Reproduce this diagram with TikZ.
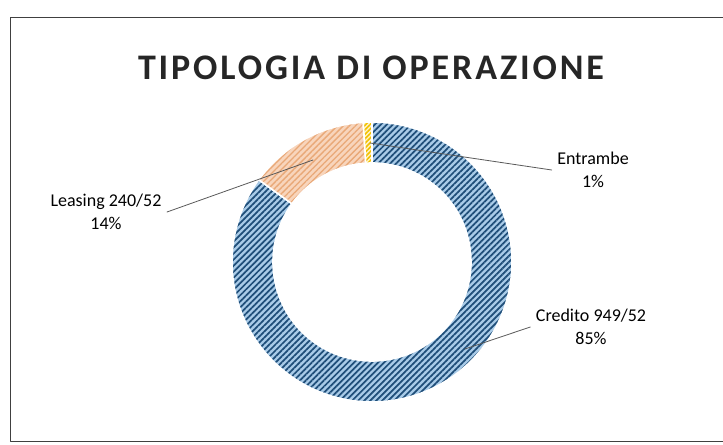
\documentclass[tikz,border=0pt]{standalone}
\usepackage{fontspec}
\setmainfont{Carlito}
\usetikzlibrary{patterns.meta}
\definecolor{credbg}{HTML}{A9CBE8}
\definecolor{credfg}{HTML}{1F4E79}
\definecolor{leasbg}{HTML}{F8D5BC}
\definecolor{leasfg}{HTML}{E9A877}
\definecolor{entbg}{HTML}{FFF2CC}
\definecolor{entfg}{HTML}{F2C200}
\definecolor{leadgrey}{HTML}{595959}
\definecolor{framegrey}{HTML}{404040}
\begin{document}
\begin{tikzpicture}[x=0.75pt,y=0.75pt, line join=round, line cap=round,
    slice/.style={draw=white, line width=1.2pt},
    credito/.style={preaction={fill=credbg}, pattern={Lines[angle=45,distance=3.2pt,line width=1.3pt]}, pattern color=credfg},
    leasing/.style={preaction={fill=leasbg}, pattern={Lines[angle=45,distance=3.2pt,line width=1pt]}, pattern color=leasfg},
    entrambe/.style={preaction={fill=entbg}, pattern={Lines[angle=45,distance=2.4pt,line width=1.2pt]}, pattern color=entfg},
    lbl/.style={align=center, font=\fontsize{13.5}{17}\selectfont, inner sep=4pt},
    leader/.style={draw=leadgrey, line width=0.6pt}]
    \def\cx{372} \def\cy{183} \def\R{140} \def\r{99}
    \useasboundingbox (0,0) rectangle (723,445);
    \draw[framegrey, line width=0.6pt] (723,428) -- (10,428) -- (10,4) -- (723,4);
    \node[text=black!85] (title) at (371,377) {\fontsize{27}{32}\selectfont\bfseries\addfontfeature{LetterSpace=8}TIPOLOGIA DI OPERAZIONE};
    % ring
    \begin{scope}[shift={(\cx,\cy)}]
        \path[slice,credito] (90:\R) arc[start angle=90,end angle=-216,radius=\R] -- (-216:\r) arc[start angle=-216,end angle=90,radius=\r] -- cycle;
        \path[slice,leasing] (144:\R) arc[start angle=144,end angle=93.6,radius=\R] -- (93.6:\r) arc[start angle=93.6,end angle=144,radius=\r] -- cycle;
        \path[slice,entrambe] (93.6:\R) arc[start angle=93.6,end angle=90,radius=\R] -- (90:\r) arc[start angle=90,end angle=93.6,radius=\r] -- cycle;
    \end{scope}
    % labels
    \node[lbl] (ent) at (593,275) {Entrambe\\1\%};
    \node[lbl] (lea) at (106,233) {Leasing 240/52\\14\%};
    \node[lbl] (cre) at (591,118) {Credito 949/52\\85\%};
    \coordinate (entT) at (370,302);
    \coordinate (leaT) at (313,285);
    \coordinate (creT) at (465,96);
    \draw[leader] (ent.west) -- (entT);
    \draw[leader] (lea.east) -- (leaT);
    \draw[leader] (cre.west) -- (creT);
\end{tikzpicture}
\end{document}
